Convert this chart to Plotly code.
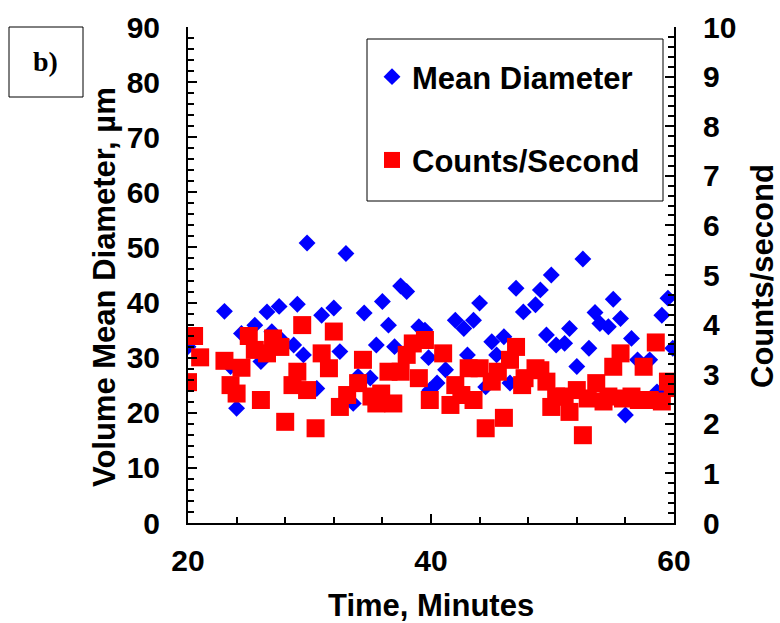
import plotly.graph_objects as go

# Mean diameter (left axis, µm)
diam_time = [20.0, 23.0, 23.5, 24.0, 24.4, 25.5, 26.0, 26.5, 26.9, 27.5, 27.7, 28.7, 29.0, 29.5,
             29.8, 30.6, 31.0, 32.0, 32.5, 33.0, 33.6, 34.0, 34.5, 35.0, 35.5, 36.0, 36.5, 37.0,
             37.5, 38.0, 39.0, 39.5, 39.8, 39.9, 40.5, 41.2, 42.0, 42.7, 43.0, 43.5, 44.0, 44.5,
             45.0, 45.4, 46.0, 46.5, 47.0, 47.6, 48.6, 49.0, 49.5, 49.9, 50.3, 51.0, 51.4, 52.0,
             52.5, 53.0, 53.5, 53.9, 54.6, 55.0, 55.6, 56.0, 56.5, 57.0, 58.0, 58.6, 59.0, 59.5, 59.9]
diam_value = [32.0, 38.4, 28.4, 20.8, 34.4, 35.9, 29.3, 38.3, 34.7, 39.3, 33.2, 32.3, 39.7, 30.5,
              50.8, 24.4, 37.7, 39.0, 31.1, 48.9, 21.7, 26.6, 38.1, 26.3, 32.3, 40.2, 35.9, 32.0,
              43.0, 42.0, 35.6, 35.0, 30.0, 24.1, 25.4, 27.8, 36.8, 35.3, 30.5, 36.8, 39.9, 24.7,
              32.9, 30.5, 33.8, 25.4, 42.6, 38.3, 39.6, 42.3, 34.1, 45.0, 32.3, 32.6, 35.3, 28.4,
              47.9, 31.7, 38.2, 36.2, 35.6, 40.6, 37.1, 19.6, 33.5, 29.6, 29.6, 23.8, 37.7, 40.8, 31.7]

# Counts per second (right axis)
count_time = [20.0, 20.5, 21.0, 23.0, 23.5, 24.0, 24.4, 25.0, 25.5, 26.0, 26.5, 27.0, 27.6, 28.0,
              28.6, 29.0, 29.4, 29.8, 30.5, 31.0, 31.6, 32.0, 32.5, 33.1, 34.0, 34.4, 35.1, 35.5,
              35.9, 36.5, 36.9, 37.5, 38.0, 38.5, 39.0, 39.5, 39.9, 41.0, 41.6, 42.0, 42.5, 43.1,
              43.5, 44.0, 44.5, 45.0, 45.5, 46.0, 46.5, 47.0, 47.5, 47.7, 48.6, 49.0, 49.5, 49.9,
              50.3, 51.0, 51.4, 52.0, 52.5, 52.9, 53.6, 54.2, 54.6, 55.0, 55.6, 55.8, 56.5, 57.1,
              57.5, 58.0, 58.5, 59.0, 59.5, 59.9]
count_value = [2.84, 3.77, 3.34, 3.27, 2.78, 2.61, 3.13, 3.77, 3.49, 2.48, 3.42, 3.72, 3.55, 2.04,
               2.78, 3.05, 3.99, 2.68, 1.91, 3.42, 3.12, 3.86, 2.34, 2.58, 2.82, 3.29, 2.55, 2.41,
               2.61, 3.05, 2.41, 3.05, 3.39, 3.62, 2.92, 3.69, 2.48, 3.42, 2.38, 2.78, 2.58, 3.12,
               2.48, 3.12, 1.91, 2.85, 3.05, 2.12, 3.29, 3.55, 2.78, 2.92, 3.12, 3.08, 2.85, 2.34,
               2.55, 2.55, 2.24, 2.68, 1.77, 2.51, 2.82, 2.45, 2.55, 3.15, 3.42, 2.51, 2.55, 2.48,
               3.15, 2.48, 3.64, 2.45, 2.85, 2.72]

x_ticks = [20, 40, 60]
y_left_ticks = list(range(0, 91, 10))
y_right_ticks = list(range(0, 11))

FONT = "Liberation Sans, Arial, sans-serif"
W, H = 780, 623
L, R, T, B = 188, 106, 27, 100
PW, PH = W - L - R, H - T - B


def px(xp):
    return (xp - L) / PW


def py(yp):
    return 1 - (yp - T) / PH


fig = go.Figure()
fig.add_trace(go.Scatter(
    x=diam_time, y=diam_value, mode="markers", name="Mean Diameter",
    legendgroup="a",
    marker=dict(symbol="diamond", size=13, color="#0000ff", line=dict(width=0)),
    yaxis="y"))
fig.add_trace(go.Scatter(
    x=count_time, y=count_value, mode="markers", name="Counts/Second",
    legendgroup="b",
    marker=dict(symbol="square", size=18, color="#ff0000", line=dict(width=0)),
    yaxis="y2"))

axis_common = dict(
    showline=True, linecolor="black", linewidth=2, showgrid=False, zeroline=False,
    ticks="inside", ticklen=9, tickwidth=2, tickcolor="black", automargin=False,
    tickfont=dict(family=FONT, size=30, color="black", weight="bold"),
)
title_font = dict(family=FONT, size=31, color="black", weight="bold")

fig.update_layout(
    width=W, height=H,
    margin=dict(l=L, r=R, t=T, b=B),
    plot_bgcolor="white", paper_bgcolor="white",
    xaxis=dict(axis_common, range=[20, 60], tickvals=x_ticks,
               minor=dict(dtick=4, ticks="inside", ticklen=6, tickwidth=2, tickcolor="black"),
               ticklabelstandoff=10),
    yaxis=dict(axis_common, range=[0, 90], tickvals=y_left_ticks,
               minor=dict(dtick=2, ticks="inside", ticklen=6, tickwidth=2, tickcolor="black"),
               ticklabelstandoff=20),
    yaxis2=dict(axis_common, range=[0, 10], tickvals=y_right_ticks, overlaying="y", side="right",
                minor=dict(dtick=0.2, ticks="inside", ticklen=6, tickwidth=2, tickcolor="black"),
                ticklabelstandoff=21),
    legend=dict(x=px(372), y=py(50), xanchor="left", yanchor="top",
                bgcolor="rgba(0,0,0,0)", borderwidth=0,
                font=dict(family=FONT, size=31, color="black", weight="bold"),
                traceorder="grouped", tracegroupgap=40, itemwidth=30),
    showlegend=True,
    shapes=[
        dict(type="rect", xref="paper", yref="paper",
             x0=px(9), x1=px(83), y0=py(97), y1=py(27),
             line=dict(color="black", width=1), fillcolor="white"),
        dict(type="rect", xref="paper", yref="paper",
             x0=px(367), x1=px(663), y0=py(201), y1=py(39),
             line=dict(color="black", width=1), fillcolor="white", layer="above"),
    ],
    annotations=[
        dict(text="b)", xref="paper", yref="paper", x=px(45), y=py(61), showarrow=False,
             xanchor="center", yanchor="middle",
             font=dict(family="Liberation Serif, Times New Roman, serif", size=28,
                       color="black", weight="bold")),
        dict(text="Time, Minutes", xref="paper", yref="paper", x=px(431), y=py(605),
             showarrow=False, font=title_font, xanchor="center", yanchor="middle"),
        dict(text="Volume Mean Diameter, µm", xref="paper", yref="paper", x=px(104), y=py(287),
             showarrow=False, font=title_font, textangle=-90, xanchor="center", yanchor="middle"),
        dict(text="Counts/second", xref="paper", yref="paper", x=px(762), y=py(276),
             showarrow=False, font=title_font, textangle=-90, xanchor="center", yanchor="middle"),
    ],
)

fig.write_html("out.html", config={"displayModeBar": False},
               post_script="document.body.style.margin='0';document.body.style.overflow='hidden';")
